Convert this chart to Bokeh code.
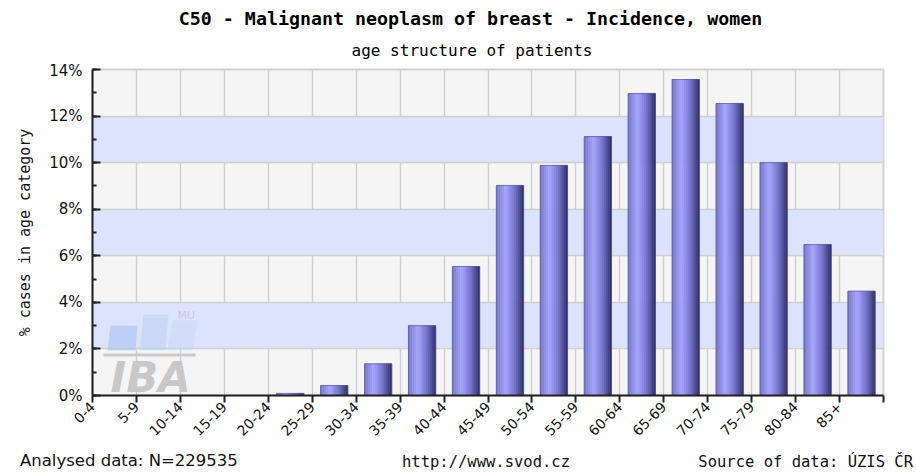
import numpy as np
from math import pi
from bokeh.plotting import figure
from bokeh.layouts import column
from bokeh.models import (Range1d, FixedTicker, SingleIntervalTicker, PrintfTickFormatter,
                          Label, BoxAnnotation, PolyAnnotation, ColumnDataSource, Div)
from bokeh.embed import file_html
from bokeh.resources import INLINE

# ---------------- data ----------------
age_groups = ["0-4", "5-9", "10-14", "15-19", "20-24", "25-29", "30-34", "35-39", "40-44",
              "45-49", "50-54", "55-59", "60-64", "65-69", "70-74", "75-79", "80-84", "85+"]
share_pct = [0.0, 0.0, 0.0, 0.0, 0.09, 0.43, 1.36, 3.00, 5.54,
             9.02, 9.88, 11.12, 12.97, 13.57, 12.54, 10.00, 6.48, 4.48]
y_ticks = [0, 2, 4, 6, 8, 10, 12, 14]
title_text = "C50 - Malignant neoplasm of breast - Incidence, women"
subtitle_text = "age structure of patients"
ylabel_text = "% cases in age category"
footer_left = "Analysed data: N=229535"
footer_mid = "http://www.svod.cz"
footer_right = "Source of data: ÚZIS ČR"

W = 916
HEAD_H, MAIN_H, FOOT_H = 61, 382, 30
BORDER_L = 92

# ---------------- header (frame is aligned with the main chart's frame) ----------------
head = figure(width=W, height=HEAD_H, output_backend="svg", toolbar_location=None,
              x_range=Range1d(0, 1), y_range=Range1d(0, 1),
              x_axis_location=None, y_axis_location=None,
              min_border_left=0, min_border_right=0, min_border_top=0, min_border_bottom=0)
head.grid.visible = False
head.outline_line_color = None
head.background_fill_color = "white"
head.border_fill_color = "white"
head.add_layout(Label(x=470 - BORDER_L, y=HEAD_H - 17.7, x_units="screen", y_units="screen",
                      text=title_text, text_align="center", text_baseline="alphabetic",
                      text_font="DejaVu Sans Mono", text_font_style="bold",
                      text_font_size="18.3px", text_color="#000000"))
head.add_layout(Label(x=471.5 - BORDER_L, y=HEAD_H - 49.5, x_units="screen", y_units="screen",
                      text=subtitle_text, text_align="center", text_baseline="alphabetic",
                      text_font="DejaVu Sans Mono", text_font_size="16px", text_color="#000000"))

# ---------------- main chart ----------------
n = len(age_groups)
p = figure(width=W, height=MAIN_H, output_backend="svg", toolbar_location=None,
           x_range=Range1d(0, n), y_range=Range1d(0, y_ticks[-1]),
           min_border_left=BORDER_L, min_border_right=33, min_border_top=8, min_border_bottom=48)
p.background_fill_color = "#f5f5f5"
p.border_fill_color = "white"
p.outline_line_color = "#d2d2d2"
p.outline_line_width = 2

p.ygrid.ticker = FixedTicker(ticks=y_ticks)
p.ygrid.grid_line_color = "#d0d0d0"
p.ygrid.grid_line_width = 1.5
p.ygrid.band_fill_color = "#dce3fc"
p.ygrid.band_fill_alpha = 1.0
p.xgrid.ticker = FixedTicker(ticks=list(range(n + 1)))
p.xgrid.grid_line_color = "#d0d0d0"
p.xgrid.grid_line_width = 1.5

xa = p.xaxis[0]
xa.ticker = FixedTicker(ticks=list(range(n + 1)))
overrides = {i: lab for i, lab in enumerate(age_groups)}
overrides[n] = ""
xa.major_label_overrides = overrides
xa.major_label_orientation = pi / 4
xa.major_label_text_font = "DejaVu Sans"
xa.major_label_text_font_size = "14px"
xa.major_label_text_color = "#111111"
xa.major_label_standoff = 2
xa.major_tick_in = 0
xa.major_tick_out = 7
xa.major_tick_line_width = 2
xa.major_tick_line_color = "#222222"
xa.minor_tick_line_color = None
xa.axis_line_width = 2
xa.axis_line_color = "#222222"

ya = p.yaxis[0]
ya.ticker = SingleIntervalTicker(interval=2, num_minor_ticks=2)
ya.formatter = PrintfTickFormatter(format="%d%%")
ya.major_label_text_font = "DejaVu Sans"
ya.major_label_text_font_size = "15px"
ya.major_label_text_color = "#111111"
ya.major_label_standoff = 10
ya.major_tick_in = 8
ya.major_tick_out = 0
ya.major_tick_line_width = 2
ya.major_tick_line_color = "#222222"
ya.minor_tick_in = 4
ya.minor_tick_out = 0
ya.minor_tick_line_width = 2
ya.minor_tick_line_color = "#222222"
ya.axis_line_width = 2
ya.axis_line_color = "#222222"
ya.axis_label = ylabel_text
ya.axis_label_text_font = "DejaVu Sans Mono"
ya.axis_label_text_font_size = "15px"
ya.axis_label_text_font_style = "normal"
ya.axis_label_text_color = "#111111"
ya.axis_label_standoff = 12

# watermark (screen units, relative to the frame's bottom-left)
for xs, ys, col in [([15, 43, 45, 18], [45, 45, 70, 70], "#a9c1ee"),
                    ([47, 73, 76, 51], [45, 45, 81, 81], "#bfd2f4"),
                    ([75, 100, 105, 80], [45, 45, 75, 75], "#c9d9f6")]:
    p.add_layout(PolyAnnotation(xs=xs, ys=ys, xs_units="screen", ys_units="screen",
                                fill_color=col, fill_alpha=0.6, line_color=None, level="underlay"))
p.add_layout(BoxAnnotation(left=11, right=103, bottom=39, top=42, left_units="screen",
                           right_units="screen", bottom_units="screen", top_units="screen",
                           fill_color="#c4c4c4", fill_alpha=0.9, line_color=None, level="underlay"))
p.add_layout(Label(x=18, y=-6, x_units="screen", y_units="screen", text="IBA",
                   text_font="DejaVu Sans", text_font_style="bold italic", text_font_size="42px",
                   text_color="#c8c8c8", level="underlay"))
p.add_layout(Label(x=85, y=74, x_units="screen", y_units="screen", text="MU",
                   text_font="DejaVu Sans", text_font_size="11px",
                   text_color="#c3cbdc", level="underlay"))

# bars with a horizontal gradient, drawn as thin vertical strips
bar_w = 0.62
n_strip = 14
stops = [(0.0, (118, 118, 198)), (0.35, (166, 166, 255)), (0.7, (112, 112, 200)), (1.0, (46, 46, 100))]


def grad(t):
    for (t0, c0), (t1, c1) in zip(stops[:-1], stops[1:]):
        if t0 <= t <= t1:
            f = (t - t0) / (t1 - t0)
            return "#%02x%02x%02x" % tuple(int(round(a + (b - a) * f)) for a, b in zip(c0, c1))
    return "#%02x%02x%02x" % stops[-1][1]


centers = np.arange(n) + 0.5
values = np.array(share_pct)
sw = bar_w / n_strip
sx, st, sc = [], [], []
for k in range(n_strip):
    col = grad((k + 0.5) / n_strip)
    for c, v in zip(centers, values):
        if v > 0:
            sx.append(c - bar_w / 2 + (k + 0.5) * sw)
            st.append(v)
            sc.append(col)
src = ColumnDataSource(dict(x=sx, top=st, color=sc))
p.vbar(x="x", top="top", bottom=0, width=sw, source=src, fill_color="color",
       line_color="color", line_width=0.6)
mask = values > 0
p.vbar(x=centers[mask], top=values[mask], bottom=0, width=bar_w, fill_alpha=0,
       line_color="#4c4c8c", line_alpha=0.6, line_width=1)

# ---------------- footer ----------------
span = ("position:absolute;top:{top}px;{side}:{pos}px;white-space:nowrap;line-height:16px;"
        "font-family:'{font}';font-size:{size}px;color:#111111;")
foot_html = (
    '<div style="position:relative;width:%dpx;height:%dpx;overflow:hidden;">' % (W, FOOT_H)
    + '<span style="%s">%s</span>' % (span.format(top=10.0, side="left", pos=20, font="DejaVu Sans", size=16.5), footer_left)
    + '<span style="%s">%s</span>' % (span.format(top=10.5, side="left", pos=402,
                                                 font="DejaVu Sans Mono", size=15.5), footer_mid)
    + '<span style="%s">%s</span>' % (span.format(top=10.5, side="right", pos=3, font="DejaVu Sans Mono", size=15.5), footer_right)
    + '</div>')
foot = Div(text=foot_html, width=W, height=FOOT_H, margin=(0, 0, 0, 0))

layout = column(head, p, foot, spacing=0)
open("out.html", "w").write(file_html(layout, INLINE))
